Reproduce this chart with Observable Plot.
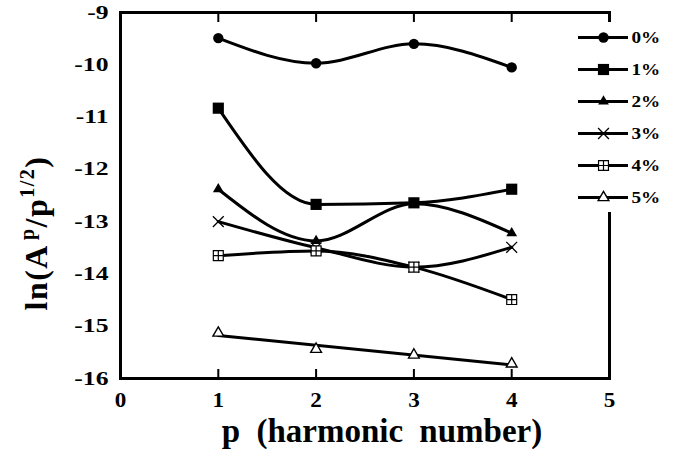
<!DOCTYPE html>
<html><head><meta charset="utf-8">
<script src="https://cdn.jsdelivr.net/npm/d3@7"></script>
<script src="https://cdn.jsdelivr.net/npm/@observablehq/plot@0.6"></script>
<style>
body{margin:0;background:#fff}
#wrap{position:relative;width:678px;height:451px;background:#fff}
#legend{position:absolute;left:575px;top:22px;background:#fff}
</style>
</head><body><div id="wrap"><div id="main"></div><div id="legend"></div></div>
<script>
// ---- data ----
const harmonics = [1, 2, 3, 4];
const seriesNames = ["0%", "1%", "2%", "3%", "4%", "5%"];
const values0 = [-9.49, -9.97, -9.60, -10.05];
const values1 = [-10.83, -12.67, -12.64, -12.38];
const values2 = [-12.38, -13.37, -12.66, -13.22];
const values3 = [-13.00, -13.50, -13.87, -13.49];
const values4 = [-13.65, -13.56, -13.87, -14.49];
const values5 = [-15.13, -15.44, -15.55, -15.72];
const xTicks = [0, 1, 2, 3, 4, 5];
const yTicks = [-9, -10, -11, -12, -13, -14, -15, -16];
const innerTicks = [1, 2, 3, 4];

const allValues = [values0, values1, values2, values3, values4, values5];
const rows = [];
seriesNames.forEach((s, i) => harmonics.forEach((p, j) => rows.push({s, p, v: allValues[i][j]})));

// custom boxed-plus symbol
const squarePlus = {
  draw(ctx, size) {
    const r = Math.sqrt(size) / 2;
    ctx.moveTo(-r, -r); ctx.lineTo(r, -r); ctx.lineTo(r, r); ctx.lineTo(-r, r); ctx.closePath();
    ctx.moveTo(0, -r); ctx.lineTo(0, r);
    ctx.moveTo(-r, 0); ctx.lineTo(r, 0);
  }
};
const styles = {
  "0%": {symbol: "circle", fill: "black", stroke: "none", r: 5.2, strokeWidth: 0},
  "1%": {symbol: "square", fill: "black", stroke: "none", r: 6.3, strokeWidth: 0},
  "2%": {symbol: "triangle", fill: "black", stroke: "none", r: 4.0, strokeWidth: 0},
  "3%": {symbol: "times", fill: "none", stroke: "black", r: 5.0, strokeWidth: 1.3},
  "4%": {symbol: squarePlus, fill: "white", stroke: "black", r: 5.6, strokeWidth: 1.2},
  "5%": {symbol: "triangle", fill: "white", stroke: "black", r: 4.0, strokeWidth: 1.4}
};

const font = "'Liberation Serif', 'Times New Roman', serif";
const W = 678, H = 451, mt = 12, mr = 69, mb = 73, ml = 120;
const innerH = H - mt - mb;
const fmt = d => String(d);

const curved = rows.filter(d => d.s !== "5%");
const dotMarks = seriesNames.map(s => Plot.dot(rows.filter(d => d.s === s), {
  x: "p", y: "v", symbol: styles[s].symbol, r: styles[s].r,
  fill: styles[s].fill, stroke: styles[s].stroke, strokeWidth: styles[s].strokeWidth
}));

const chart = Plot.plot({
  width: W, height: H,
  marginTop: mt, marginRight: mr, marginBottom: mb, marginLeft: ml,
  style: {fontFamily: font, fontWeight: "bold", background: "white", color: "black"},
  x: {domain: [0, 5], label: null},
  y: {domain: [-16, -9], label: null},
  marks: [
    Plot.axisX(xTicks, {tickSize: 0, tickPadding: 14, fontSize: 21, fontWeight: "bold", tickFormat: fmt, label: null}),
    Plot.axisY(yTicks, {tickSize: 0, tickPadding: 12, fontSize: 19, fontWeight: "bold", tickFormat: fmt, label: null}),
    Plot.ruleX(innerTicks, {x: d => d, insetTop: innerH - 9, strokeWidth: 2}),
    Plot.ruleX(innerTicks, {x: d => d, insetBottom: innerH - 10, strokeWidth: 2}),
    Plot.line(curved, {x: "p", y: "v", z: "s", curve: "monotone-x", strokeWidth: 3, stroke: "black"}),
    Plot.linearRegressionY(rows.filter(d => d.s === "5%"), {x: "p", y: "v", ci: 0, stroke: "black", strokeWidth: 3}),
    ...dotMarks,
    Plot.frame({strokeWidth: 3, stroke: "black"})
  ]
});
document.getElementById("main").appendChild(chart);

// widen text glyphs horizontally (reference uses a wide bold serif)
function widen(nodes, sx) {
  nodes.forEach(el => {
    const t = el.getAttribute("transform") || "";
    el.setAttribute("transform", `${t} scale(${sx},1)`);
  });
}
widen(chart.querySelectorAll('g[aria-label="y-axis tick label"] text'), 1.35);
widen(chart.querySelectorAll('g[aria-label="x-axis tick label"] text'), 1.1);

// axis titles
const svg = d3.select(chart);
const yt = svg.append("text")
  .attr("transform", "translate(47,233) rotate(-90)")
  .attr("text-anchor", "middle")
  .attr("font-family", font).attr("font-weight", "bold").attr("font-size", 32)
  .attr("letter-spacing", 1.5)
  .attr("fill", "black");
yt.append("tspan").text("ln(A");
yt.append("tspan").attr("dy", -13).attr("font-size", 20).attr("dx", 4).text("p");
yt.append("tspan").attr("dy", 13).text("/p");
yt.append("tspan").attr("dy", -13).attr("font-size", 20).text("1/2");
yt.append("tspan").attr("dy", 13).text(")");

svg.append("text")
  .attr("x", 382).attr("y", 442)
  .attr("text-anchor", "middle")
  .attr("font-family", font).attr("font-weight", "bold").attr("font-size", 33)
  .attr("word-spacing", 8)
  .attr("fill", "black")
  .text("p (harmonic number)");

// legend
const legend = Plot.plot({
  width: 90, height: 190, margin: 0,
  style: {fontFamily: font, fontWeight: "bold", background: "white", color: "black", overflow: "visible"},
  x: {domain: [0, 1], range: [3, 53], axis: null},
  y: {type: "point", domain: seriesNames, range: [14, 175], padding: 0, axis: null},
  marks: [
    Plot.ruleY(seriesNames, {y: d => d, x1: 0, x2: 1, strokeWidth: 3, stroke: "black"}),
    ...seriesNames.map(s => Plot.dot([s], {
      x: 0.5, y: d => d, symbol: styles[s].symbol, r: styles[s].r,
      fill: styles[s].fill, stroke: styles[s].stroke, strokeWidth: styles[s].strokeWidth
    })),
    Plot.text(seriesNames, {x: 1, y: d => d, text: d => d, dx: 3, textAnchor: "start", fontSize: 16, fontWeight: "bold", fill: "black"})
  ]
});
document.getElementById("legend").appendChild(legend);
widen(legend.querySelectorAll('g[aria-label="text"] text'), 1.2);
</script>
</body></html>
